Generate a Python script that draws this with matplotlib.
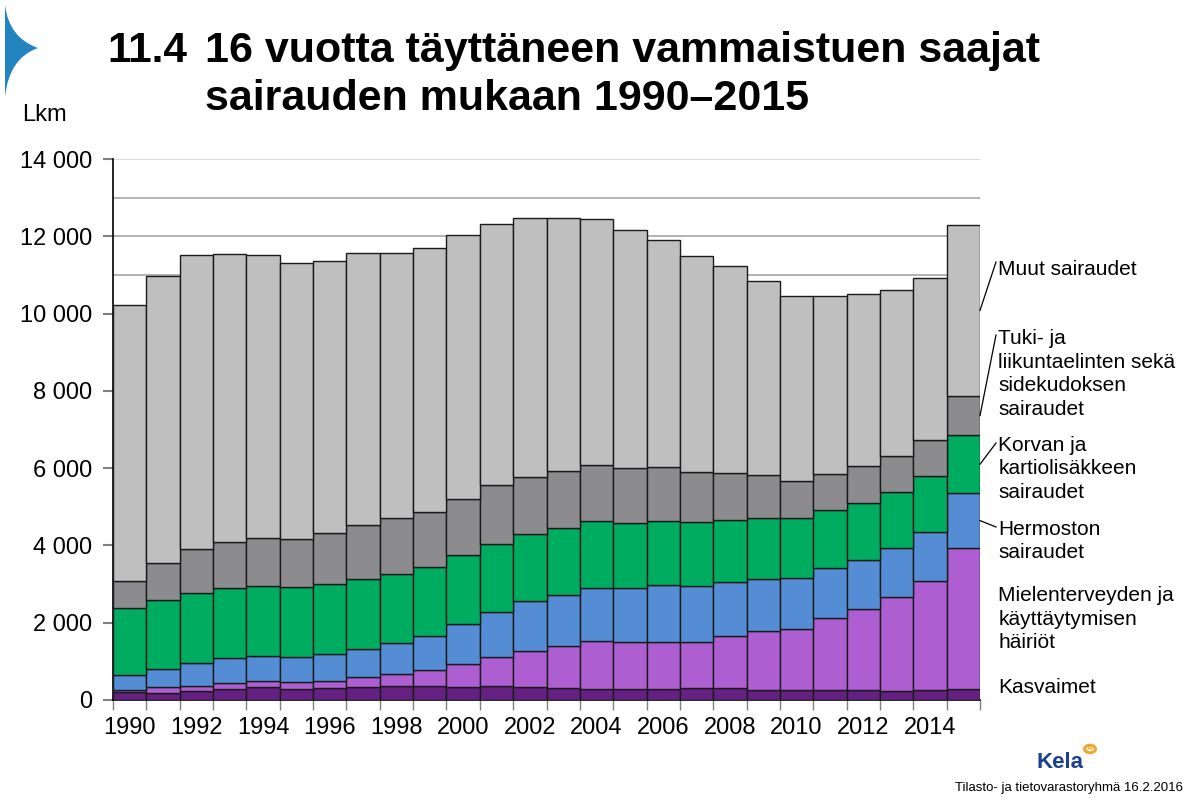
import numpy as np
import matplotlib.pyplot as plt
from matplotlib.path import Path
from matplotlib.patches import PathPatch, Circle

plt.rcParams['font.family'] = ['Liberation Sans', 'DejaVu Sans']

years = list(range(1990, 2016))

# Lkm per sairausryhmä (luettu kuvasta)
kasvaimet = [215, 185, 220, 280, 325, 290, 315, 325, 350, 350, 325, 350, 345, 305,
             295, 295, 295, 305, 305, 270, 250, 250, 250, 235, 260, 280]
mielenterveys = [50, 140, 130, 155, 165, 165, 175, 260, 325, 415, 600, 760, 925, 1090,
                 1225, 1195, 1215, 1195, 1360, 1510, 1585, 1870, 2100, 2425, 2815, 3650]
hermosto = [370, 480, 600, 650, 650, 655, 695, 730, 795, 880, 1035, 1165, 1285, 1335,
            1380, 1405, 1455, 1445, 1400, 1345, 1335, 1305, 1280, 1270, 1280, 1425]
korva = [1750, 1795, 1815, 1805, 1815, 1825, 1805, 1825, 1795, 1805, 1780, 1760, 1740, 1720,
         1725, 1695, 1660, 1650, 1600, 1575, 1530, 1480, 1465, 1465, 1445, 1490]
tule = [705, 935, 1140, 1205, 1240, 1225, 1335, 1390, 1435, 1425, 1465, 1520, 1470, 1470,
        1445, 1425, 1415, 1295, 1220, 1110, 980, 955, 955, 925, 935, 1030]
muut = [7130, 7445, 7600, 7445, 7315, 7160, 7045, 7045, 6860, 6815, 6825, 6750, 6715, 6555,
        6390, 6150, 5870, 5605, 5355, 5020, 4770, 4585, 4465, 4280, 4195, 4415]

series = [kasvaimet, mielenterveys, hermosto, korva, tule, muut]
colors = ['#642181', '#AD5FD2', '#548DD4', '#00AC5F', '#8C8C8E', '#BFBFBF']
labels = ['Kasvaimet',
          'Mielenterveyden ja\nkäyttäytymisen\nhäiriöt',
          'Hermoston\nsairaudet',
          'Korvan ja\nkartiolisäkkeen\nsairaudet',
          'Tuki- ja\nliikuntaelinten sekä\nsidekudoksen\nsairaudet',
          'Muut sairaudet']
label_y = [311, 2096, 4115, 5978, 8437, 11128]
leader_end = [None, None, 4477, 6651, 9446, 11335]

W, H = 1187, 808
fig = plt.figure(figsize=(W / 100, H / 100), dpi=100)
ax = fig.add_axes([113 / W, 1 - 700 / H, 867 / W, 541 / H])

x = np.arange(len(years))
bottom = np.zeros(len(years))
for vals, c in zip(series, colors):
    ax.bar(x, vals, width=1.0, bottom=bottom, color=c, edgecolor='#1a1a1a',
           linewidth=1.0, zorder=3)
    bottom += np.array(vals)

# gridlines
for v in range(1000, 14000, 1000):
    ax.axhline(v, color='#A6A6A6', linewidth=1.2, zorder=1)
ax.axhline(14000, color='#D9D9D9', linewidth=1.5, zorder=1)

ax.set_xlim(-0.5, len(years) - 0.5)
ax.set_ylim(0, 14000)
ax.set_yticks(range(0, 14001, 2000))
ax.set_yticklabels([f'{v:,}'.replace(',', ' ') for v in range(0, 14001, 2000)])
ax.set_xticks(x[::2])
ax.set_xticklabels([str(y) for y in years[::2]])
ax.set_xticks(np.arange(-0.5, len(years), 1.0), minor=True)
ax.tick_params(axis='x', which='major', length=0, pad=12, labelsize=17)
ax.tick_params(axis='x', which='minor', length=7, color='#808080', width=1)
ax.tick_params(axis='y', length=7, color='#808080', width=1.5, pad=8, labelsize=17)
for s in ['top', 'right']:
    ax.spines[s].set_visible(False)
ax.spines['left'].set_color('black')
ax.spines['bottom'].set_color('black')
ax.spines['left'].set_linewidth(1.2)
ax.spines['bottom'].set_linewidth(1.2)

# labels at right with leader lines from last bar
last = len(years) - 1
cum = np.cumsum([s[last] for s in series])
starts = np.concatenate([[0], cum[:-1]])
for lab, ly, le, s0, s1 in zip(labels, label_y, leader_end, starts, cum):
    ax.text(26.05, ly, lab, fontsize=15, va='center', ha='left',
            linespacing=1.3, clip_on=False)
    if le is not None:
        ax.plot([last + 0.5, 25.98], [(s0 + s1) / 2, le], color='black',
                linewidth=0.9, clip_on=False, zorder=4)

# title
def fy(py):
    return 1 - py / H

fig.text(107 / W, fy(62), '11.4', fontsize=30.5, fontweight='bold', va='baseline')
fig.text(205 / W, fy(62), '16 vuotta täyttäneen vammaistuen saajat', fontsize=31,
         fontweight='bold', va='baseline')
fig.text(205 / W, fy(110), 'sairauden mukaan 1990–2015', fontsize=31,
         fontweight='bold', va='baseline')
fig.text(22 / W, fy(121), 'Lkm', fontsize=17, va='baseline')

# blue corner mark
verts = [(5, 5), (9, 38), (38, 48), (9, 58), (5, 97), (5, 5)]
codes = [Path.MOVETO, Path.CURVE3, Path.CURVE3, Path.CURVE3, Path.CURVE3,
         Path.CLOSEPOLY]
verts = [(vx / W, fy(vy)) for vx, vy in verts]
fig.patches.append(PathPatch(Path(verts, codes), facecolor='#2385C0', edgecolor='none',
                             transform=fig.transFigure))

# Kela logo and footer
fig.text(1037 / W, fy(768), 'Kela', fontsize=16, fontweight='bold', color='#1C3F94',
         va='baseline')
fig.patches.append(Circle((1090 / W, fy(749)), 5.5 / W, facecolor='white',
                          edgecolor='#F0A830', linewidth=2.2, transform=fig.transFigure))
fig.text(1090 / W, fy(749), 'A', fontsize=6, fontweight='bold', color='#F0A830',
         ha='center', va='center')
fig.text(955 / W, fy(791), 'Tilasto- ja tietovarastoryhmä 16.2.2016', fontsize=9.5,
         va='baseline')

fig.savefig('out.png', dpi=100)
